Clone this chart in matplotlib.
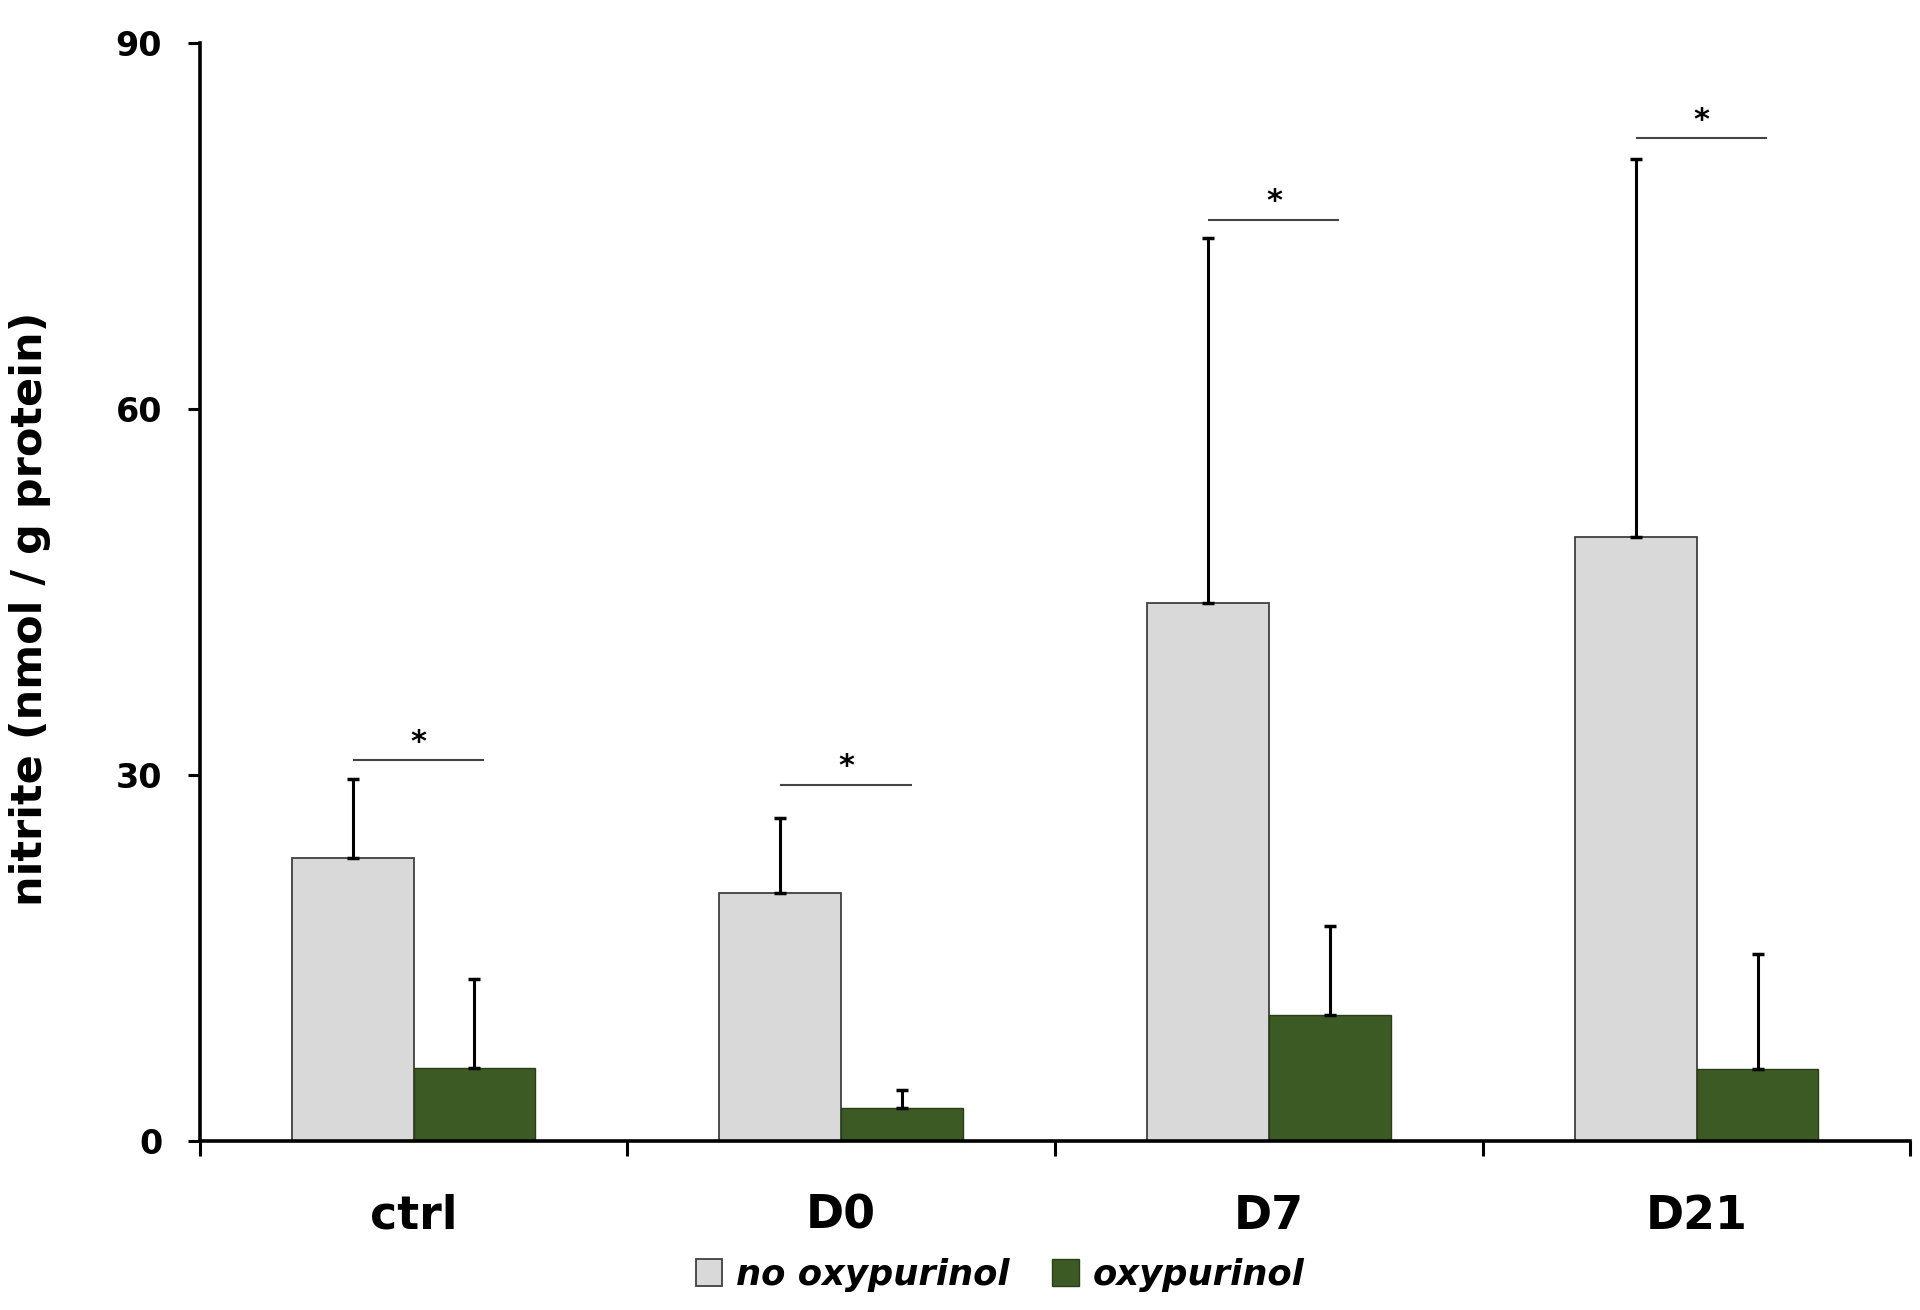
import matplotlib

matplotlib.use("Agg")
import matplotlib.pyplot as plt  # noqa: E402
import numpy as np  # noqa: E402
from matplotlib.patches import Patch  # noqa: E402

plt.rcParams["font.family"] = ["DejaVu Sans"]

groups = ["ctrl", "D0", "D7", "D21"]
no_oxy = [23.2, 20.3, 44.1, 49.5]
no_oxy_err = [6.5, 6.2, 29.9, 31.0]
oxy = [6.0, 2.7, 10.3, 5.9]
oxy_err = [7.3, 1.5, 7.3, 9.4]
sig_y = [31.2, 29.2, 75.5, 82.2]

grey = "#d9d9d9"
green = "#3c5a24"

fig = plt.figure(figsize=(19.2, 13.1), dpi=100)
ax = fig.add_axes([0.104, 0.129, 0.891, 0.838])

x = np.arange(len(groups))
w = 0.285
ax.bar(x - w / 2, no_oxy, w, color=grey, edgecolor="#404040", lw=1.3,
       yerr=[np.zeros(4), no_oxy_err], capsize=4,
       error_kw=dict(elinewidth=2.2, capthick=2.5, ecolor="black"), zorder=2)
ax.bar(x + w / 2, oxy, w, color=green, edgecolor="#2a3f18", lw=1.0,
       yerr=[np.zeros(4), oxy_err], capsize=4,
       error_kw=dict(elinewidth=2.2, capthick=2.5, ecolor="black"), zorder=2)

# significance bars
for xi, ys in zip(x, sig_y):
    ax.plot([xi - w / 2, xi + 0.165], [ys, ys], color="#444444", lw=1.5,
            solid_capstyle="butt")
    ax.text(xi + 0.012, ys + 0.3, "*", ha="center", va="bottom", fontsize=22,
            fontweight="bold")

ax.set_xlim(-0.5, 3.5)
ax.set_ylim(0, 90)
ax.set_yticks([0, 30, 60, 90])
ax.tick_params(axis="y", direction="out", length=9, width=2.2, pad=18,
               labelsize=24)
for lab in ax.get_yticklabels():
    lab.set_fontweight("bold")

ax.set_xticks(np.arange(-0.5, 4.0, 1.0))
ax.set_xticklabels([])
ax.tick_params(axis="x", which="major", direction="out", length=11, width=2.2)
ax.set_xticks(x, minor=True)
ax.set_xticklabels(groups, minor=True, fontsize=33, fontweight="bold")
ax.tick_params(axis="x", which="minor", length=0, pad=38)

for s in ["top", "right"]:
    ax.spines[s].set_visible(False)
for s in ["left", "bottom"]:
    ax.spines[s].set_linewidth(2.6)

ax.set_ylabel("nitrite (nmol / g protein)", fontsize=31, fontweight="bold")
ax.yaxis.set_label_coords(-0.087, 0.485)

handles = [Patch(facecolor=grey, edgecolor="#404040", lw=1.3),
           Patch(facecolor=green, edgecolor="#2a3f18", lw=1.0)]
fig.legend(handles, ["no oxypurinol", "oxypurinol"], loc="center",
           bbox_to_anchor=(0.521, 0.027), ncol=2, frameon=False,
           prop=dict(size=25.5, weight="bold", style="italic"),
           handlelength=0.75, handleheight=0.8, handletextpad=0.4,
           columnspacing=1.2)

fig.savefig("out.png", dpi=100)
